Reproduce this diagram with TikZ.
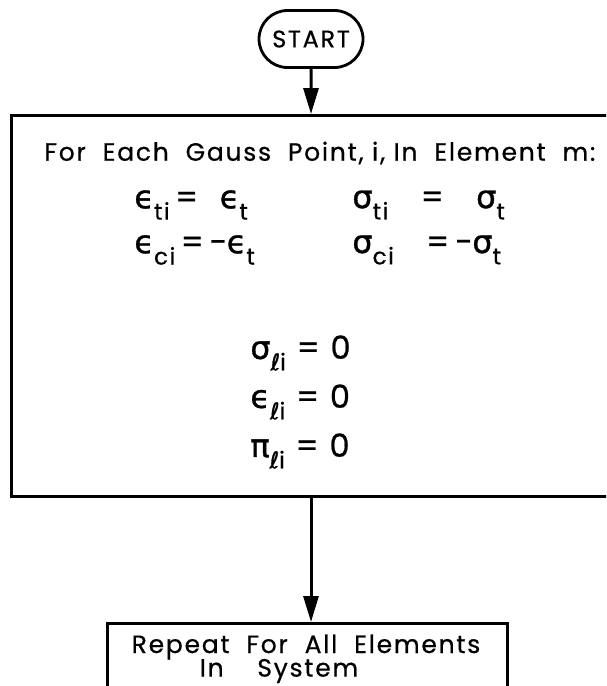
\documentclass[tikz,border=0pt]{standalone}
\usepackage{fontspec}
\setmainfont{Poppins}[LetterSpace=7, FakeBold=0.6]
\newfontfamily\grk{DejaVu Sans}[FakeBold=1.2]
\usetikzlibrary{arrows.meta, positioning, shapes.misc}
\newcommand{\lowsub}[1]{\raisebox{-0.65ex}{\fontsize{11.5}{12}\selectfont #1}}
\newcommand{\gsym}[2]{{\grk #1}\lowsub{#2}}
\tikzset{
	term/.style={draw, line width=1.4pt, rounded rectangle, minimum width=56pt,
		minimum height=28.5pt, inner sep=2pt, font=\fontsize{12}{14}\selectfont},
	block/.style={draw, line width=1.4pt, inner sep=0pt},
	txt/.style={inner sep=0pt, font=\fontsize{12.5}{15}\selectfont},
	eqn/.style={inner sep=0pt, anchor=west, font=\fontsize{16}{18}\selectfont},
	arr/.style={-{Triangle[length=13pt, width=7.5pt]}, line width=1.5pt},
}

\begin{document}
\begin{tikzpicture}[x=0.5pt, y=-0.5pt]
	\useasboundingbox (0,0) rectangle (606,686);
	\clip (0,0) rectangle (606,686);
	% flow boxes
	\node[term] (start) at (311,39) {START};
	\node[block, anchor=north west, minimum width=315pt, minimum height=190.5pt] (gauss) at (10,114) {};
	\node[block, anchor=north west, minimum width=200pt, minimum height=60pt] (repeat) at (106,622) {};
	% text in the first block
	\node[txt, anchor=west] (head) at (44,153) {For\ \ Each\ \ Gauss\ \ Point\kern1pt, i\kern1pt, In\ \ Element\ \ m:};
	\node[eqn] (et) at (134,205) {\gsym{ϵ}{ti}\,=\ \ {\grk ϵ}\lowsub{t}};
	\node[eqn] (ec) at (134,250) {\gsym{ϵ}{ci}\,=\,−{\grk ϵ}\lowsub{t}};
	\node[eqn] (st) at (352,205) {\gsym{σ}{ti}\ \ \ =\ \ \ {\grk σ}\lowsub{t}};
	\node[eqn] (sc) at (352,250) {\gsym{σ}{ci}\ \ \ =\,−{\grk σ}\lowsub{t}};
	\node[eqn] (sl) at (250,353) {\gsym{σ}{{\grk ℓ}i}\ =\ 0};
	\node[eqn] (el) at (250,402) {\gsym{ϵ}{{\grk ℓ}i}\ =\ 0};
	\node[eqn] (pl) at (250,451) {\gsym{π}{{\grk ℓ}i}\ =\ 0};
	% text in the last block
	\node[txt] (rep1) at (306,647) {Repeat\ \ For\ \ All\ \ Elements};
	\node[txt] (rep2) at (279,671) {In\ \ \ \ System};
	% connectors
	\draw[arr] (start) -- (start |- gauss.north);
	\draw[arr] (gauss.south -| start) -- (start |- repeat.north);
\end{tikzpicture}
\end{document}
